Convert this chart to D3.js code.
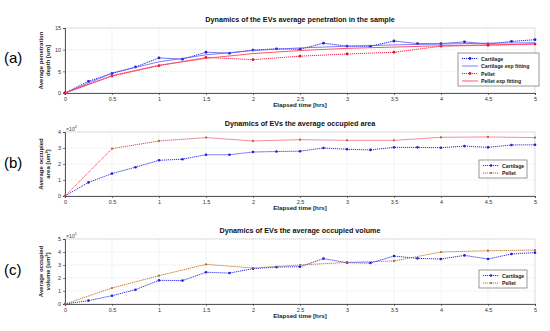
<!DOCTYPE html>
<html>
<head>
<meta charset="utf-8">
<script src="https://cdn.jsdelivr.net/npm/d3@7"></script>
<style>
body { margin: 0; background: #fff; }
text { font-family: "Liberation Sans", Arial, sans-serif; }
</style>
</head>
<body>
<div id="graph"></div>
<script>
var WIDTH = 550;
var HEIGHT = 331;

// times
var tFine = [0, 0.25, 0.5, 0.75, 1, 1.25, 1.5, 1.75, 2, 2.25, 2.5, 2.75, 3, 3.25, 3.5, 3.75, 4, 4.25, 4.5, 4.75, 5];
var tHalf = [0, 0.5, 1, 1.5, 2, 2.5, 3, 3.5, 4, 4.5, 5];
var xTicks = [0, 0.5, 1, 1.5, 2, 2.5, 3, 3.5, 4, 4.5, 5];
var xTickLabels = ["0", "0.5", "1", "1.5", "2", "2.5", "3", "3.5", "4", "4.5", "5"];

// (a) penetration depth [um]
var depthCartilage = [0, 2.7, 4.5, 6.0, 8.1, 7.8, 9.4, 9.2, 9.9, 10.2, 10.1, 11.5, 10.8, 10.8, 12.0, 11.4, 11.4, 11.8, 11.3, 11.9, 12.3];
var depthCartilageFit = [0, 4.6, 7.2, 8.8, 9.8, 10.4, 10.8, 11.1, 11.3, 11.5, 11.6];
var depthPellet = [0, 3.9, 6.3, 8.2, 7.7, 8.5, 9.0, 9.4, 10.8, 11.0, 11.3];
var depthPelletFit = [0, 4.0, 6.4, 8.0, 9.1, 9.8, 10.3, 10.6, 10.9, 11.1, 11.3];

// (b) occupied area [x10^4 um^2]
var areaCartilage = [0, 0.85, 1.4, 1.8, 2.23, 2.3, 2.58, 2.58, 2.75, 2.78, 2.8, 3.0, 2.92, 2.88, 3.04, 3.04, 3.02, 3.12, 3.04, 3.19, 3.2];
var areaPellet = [0, 2.96, 3.44, 3.65, 3.44, 3.52, 3.48, 3.48, 3.67, 3.69, 3.65];

// (c) occupied volume [x10^5 um^3]
var volCartilage = [0, 0.26, 0.64, 1.1, 1.82, 1.8, 2.44, 2.38, 2.72, 2.84, 2.87, 3.49, 3.18, 3.15, 3.69, 3.51, 3.46, 3.74, 3.46, 3.85, 3.95];
var volPellet = [0, 1.23, 2.18, 3.05, 2.77, 3.0, 3.2, 3.31, 4.0, 4.1, 4.15];

var svg = d3.select("#graph").append("svg")
    .attr("width", WIDTH)
    .attr("height", HEIGHT);

var x = d3.scaleLinear().domain([0, 5]).range([65, 535]);

var BLUE = "#1f1fe0";
var RED = "#f0284a";
var BROWN = "#b5651d";

function zip(xs, ys) {
    return xs.map(function(d, i) { return [d, ys[i]]; });
}

function drawPanel(p) {
    var y = d3.scaleLinear().domain([0, p.ymax]).range([p.bottom, p.top]);
    var g = svg.append("g");

    // grid
    g.selectAll("line.vg").data(xTicks).enter().append("line")
        .attr("x1", function(d) { return x(d); }).attr("x2", function(d) { return x(d); })
        .attr("y1", p.top).attr("y2", p.bottom)
        .attr("stroke", "#d8d8d8").attr("stroke-width", 0.6).attr("stroke-dasharray", "1,1");
    g.selectAll("line.hg").data(p.yTicks).enter().append("line")
        .attr("y1", function(d) { return y(d); }).attr("y2", function(d) { return y(d); })
        .attr("x1", x(0)).attr("x2", x(5))
        .attr("stroke", "#d8d8d8").attr("stroke-width", 0.6).attr("stroke-dasharray", "1,1");
    g.append("rect")
        .attr("x", x(0)).attr("y", p.top).attr("width", x(5) - x(0)).attr("height", p.bottom - p.top)
        .attr("fill", "none").attr("stroke", "#cfcfcf").attr("stroke-width", 0.6);

    // axes
    var xAxis = d3.axisBottom(x).tickValues(xTicks)
        .tickFormat(function(d, i) { return xTickLabels[i]; })
        .tickSize(2).tickPadding(2);
    var ax = g.append("g").attr("transform", "translate(0," + p.bottom + ")").call(xAxis);
    var yAxis = d3.axisLeft(y).tickValues(p.yTicks).tickFormat(d3.format("d"))
        .tickSize(2).tickPadding(2);
    var ay = g.append("g").attr("transform", "translate(" + x(0) + ",0)").call(yAxis);
    [ax, ay].forEach(function(a) {
        a.select(".domain").attr("stroke", "#333").attr("stroke-width", 0.8);
        a.selectAll(".tick line").attr("stroke", "#333").attr("stroke-width", 0.6);
        a.selectAll(".tick text").attr("font-size", 5.5).attr("fill", "#333");
    });

    if (p.exp) {
        var et = g.append("text").attr("x", x(0) + 1).attr("y", p.top - 1.5)
            .attr("font-size", 5.2).attr("fill", "#444").text("\u00d710");
        et.append("tspan").attr("dy", -2.5).attr("font-size", 3.6).text(p.exp);
    }

    // title
    g.append("text").attr("x", 300).attr("y", p.top - 6)
        .attr("text-anchor", "middle").attr("font-size", 7.2).attr("font-weight", "bold")
        .attr("fill", "#111").text(p.title);
    g.append("text").attr("x", 300).attr("y", p.bottom + 14)
        .attr("text-anchor", "middle").attr("font-size", 6.2).attr("font-weight", "bold")
        .attr("fill", "#222").text("Elapsed time [hrs]");

    // y label
    var yl = g.append("text")
        .attr("transform", "translate(" + (x(0) - 20) + "," + ((p.top + p.bottom) / 2) + ") rotate(-90)")
        .attr("text-anchor", "middle").attr("font-size", 6).attr("font-weight", "bold").attr("fill", "#222");
    yl.append("tspan").attr("x", 0).attr("dy", -2).text(p.ylab1);
    var l2 = yl.append("tspan").attr("x", 0).attr("dy", 7).text(p.ylab2);
    if (p.ysup) {
        l2.append("tspan").attr("dy", -2.5).attr("font-size", 4).text(p.ysup);
        l2.append("tspan").attr("dy", 2.5).text("]");
    }

    // panel letter
    svg.append("text").attr("x", 4).attr("y", p.letterY)
        .attr("font-family", "Liberation Serif, Times New Roman, serif")
        .attr("font-size", 15).attr("fill", "#000").text(p.letter);

    var line = d3.line().x(function(d) { return x(d[0]); }).y(function(d) { return y(d[1]); });

    p.series.forEach(function(s) {
        var data = zip(s.t, s.v);
        g.append("path").datum(data).attr("d", line)
            .attr("fill", "none").attr("stroke", s.color).attr("stroke-width", s.width)
            .attr("stroke-dasharray", s.dash ? "1.2,0.8" : null);
        if (s.marker) {
            g.selectAll(null).data(data).enter().append("circle")
                .attr("cx", function(d) { return x(d[0]); })
                .attr("cy", function(d) { return y(d[1]); })
                .attr("r", s.r).attr("fill", s.marker);
        }
    });

    // legend
    var lg = g.append("g").attr("transform", "translate(" + p.legend[0] + "," + p.legend[1] + ")");
    lg.append("rect").attr("width", p.legend[2]).attr("height", p.series.length * 7.5 + 3)
        .attr("fill", "#fff").attr("stroke", "#555").attr("stroke-width", 0.6);
    p.series.forEach(function(s, i) {
        var yy = 5.5 + i * 7.5;
        lg.append("line").attr("x1", 4).attr("x2", 20).attr("y1", yy).attr("y2", yy)
            .attr("stroke", s.color).attr("stroke-width", s.width)
            .attr("stroke-dasharray", s.dash ? "1.2,0.8" : null);
        if (s.marker) {
            lg.append("circle").attr("cx", 12).attr("cy", yy).attr("r", s.r).attr("fill", s.marker);
        }
        lg.append("text").attr("x", 23).attr("y", yy + 2)
            .attr("font-size", 5.2).attr("font-weight", "bold").attr("fill", "#222").text(s.name);
    });
}

drawPanel({
    top: 28, bottom: 93, ymax: 15, yTicks: [0, 5, 10, 15],
    title: "Dynamics of the EVs average penetration in the sample",
    ylab1: "Average penetration", ylab2: "depth [um]",
    letter: "(a)", letterY: 63,
    legend: [458, 53, 81],
    series: [
        { name: "Cartilage", t: tFine, v: depthCartilage, color: BLUE, width: 1, dash: true, marker: BLUE, r: 1.4 },
        { name: "Cartilage exp fitting", t: tHalf, v: depthCartilageFit, color: "#5a5aff", width: 0.8, dash: false },
        { name: "Pellet", t: tHalf, v: depthPellet, color: RED, width: 1, dash: true, marker: "#e0102a", r: 1.4 },
        { name: "Pellet exp fitting", t: tHalf, v: depthPelletFit, color: "#ff4060", width: 0.9, dash: false }
    ]
});

drawPanel({
    top: 132, bottom: 196, ymax: 4, yTicks: [0, 1, 2, 3, 4], exp: "4",
    title: "Dynamics of EVs the average occupied area",
    ylab1: "Average occupied", ylab2: "area [um", ysup: "2",
    letter: "(b)", letterY: 168,
    legend: [479, 160, 48],
    series: [
        { name: "Cartilage", t: tFine, v: areaCartilage, color: BLUE, width: 0.9, dash: true, marker: BLUE, r: 1.3 },
        { name: "Pellet", t: tHalf, v: areaPellet, color: RED, width: 0.9, dash: true, marker: BROWN, r: 1.1 }
    ]
});

drawPanel({
    top: 239, bottom: 304, ymax: 5, yTicks: [0, 1, 2, 3, 4, 5], exp: "5",
    title: "Dynamics of EVs the average occupied volume",
    ylab1: "Average occupied", ylab2: "volume [um", ysup: "3",
    letter: "(c)", letterY: 275,
    legend: [479, 270, 48],
    series: [
        { name: "Cartilage", t: tFine, v: volCartilage, color: BLUE, width: 0.9, dash: true, marker: BLUE, r: 1.3 },
        { name: "Pellet", t: tHalf, v: volPellet, color: BROWN, width: 0.9, dash: true, marker: BROWN, r: 1.1 }
    ]
});
</script>
</body>
</html>
